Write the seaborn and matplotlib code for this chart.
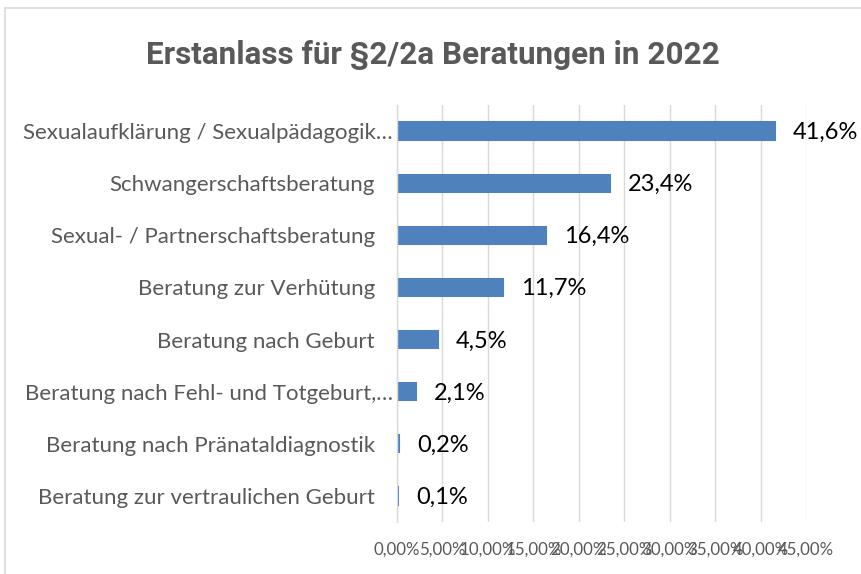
import matplotlib
matplotlib.use("Agg")
import matplotlib.pyplot as plt
import matplotlib.transforms as mtransforms
import seaborn as sns
import pandas as pd
import numpy as np
from matplotlib.ticker import MultipleLocator, FuncFormatter, FixedLocator
from matplotlib.patches import Rectangle

categories = [
    "Sexualaufklärung / Sexualpädagogik…",
    "Schwangerschaftsberatung",
    "Sexual- / Partnerschaftsberatung",
    "Beratung zur Verhütung",
    "Beratung nach Geburt",
    "Beratung nach Fehl- und Totgeburt,…",
    "Beratung nach Pränataldiagnostik",
    "Beratung zur vertraulichen Geburt",
]
values = [41.6, 23.4, 16.4, 11.7, 4.5, 2.1, 0.2, 0.1]
value_labels = ["41,6%", "23,4%", "16,4%", "11,7%", "4,5%", "2,1%", "0,2%", "0,1%"]
title = "Erstanlass für §2/2a Beratungen in 2022"

df = pd.DataFrame({"cat": categories, "val": values})

sns.set_theme(style="white")
plt.rcParams["font.family"] = ["Lato", "DejaVu Sans"]

fig = plt.figure(figsize=(8.61, 5.74), dpi=100)
ax = fig.add_axes([397/861, 1-522/574, (806-397)/861, (522-105)/574])

sns.barplot(data=df, y="cat", x="val", orient="h", color="#4F81BD",
            width=0.33, ax=ax, saturation=1, edgecolor="#4F81BD", linewidth=1.5)

ax.set_xlim(0, 45)
ax.set_ylim(len(categories)-0.5, -0.5)
ax.xaxis.set_major_locator(MultipleLocator(5))
ax.xaxis.set_major_formatter(FuncFormatter(lambda v, p: f"{v:.2f}".replace(".", ",") + "%"))
ax.grid(axis="x", color="#D9D9D9", linewidth=1)
ax.set_axisbelow(True)
for s in ["top", "right", "bottom"]:
    ax.spines[s].set_visible(False)
ax.spines["left"].set_color("#D9D9D9")
ax.spines["left"].set_linewidth(1)
ax.set_xlabel("")
ax.set_ylabel("")
ax.tick_params(axis="x", length=0, labelsize=12.2, labelcolor="#595959", pad=14)
ax.tick_params(axis="y", length=0, labelsize=16, labelcolor="#595959", pad=16)
ax.yaxis.set_minor_locator(FixedLocator(np.arange(-0.5, len(categories), 1)))
ax.tick_params(axis="y", which="minor", length=9, color="#D9D9D9", width=1)

# truncated labels sit closer to the axis, as in the original
shift = mtransforms.ScaledTranslation(18/100, 0, fig.dpi_scale_trans)
for lbl in ax.get_yticklabels():
    if lbl.get_text().endswith("…"):
        lbl.set_transform(lbl.get_transform() + shift)

for i, (v, lab) in enumerate(zip(values, value_labels)):
    ax.annotate(lab, xy=(v, i), xytext=(13, -1), textcoords="offset points",
                va="center", ha="left", fontsize=17, color="black")

fig.text(433/861, 1-55/574, title, ha="center", va="center", fontsize=22.6,
         fontweight="bold", color="#595959", family=["Roboto", "DejaVu Sans"])

fig.patches.append(Rectangle((5/861, -0.05), 1.1, 1-8/574+0.05, transform=fig.transFigure,
                             fill=False, edgecolor="#D9D9D9", linewidth=1.2))

fig.savefig("out.png", dpi=100)
